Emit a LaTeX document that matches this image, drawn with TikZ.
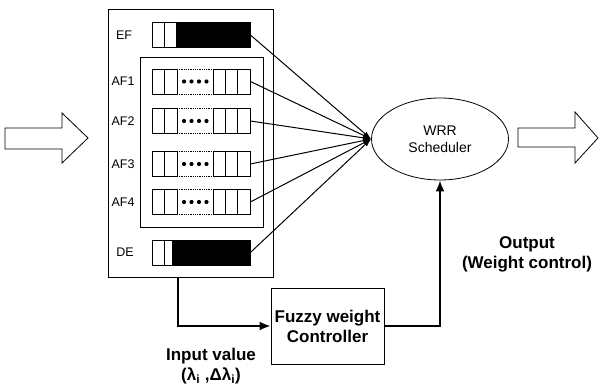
\documentclass[tikz,border=0pt]{standalone}
\usepackage{fontspec}
\setmainfont{Liberation Sans}
\usetikzlibrary{arrows.meta,shapes.geometric}

% AF queue: name, y, label
\newcommand{\afqueue}[3]{%
  \node[qbox] (#1) at (201,#2) {};
  \draw (152,#2-12.5) rectangle (177,#2+12.5) (164,#2-12.5) -- (164,#2+12.5);
  \draw (213,#2-12.5) rectangle (250,#2+12.5)
        (225,#2-12.5) -- (225,#2+12.5) (237,#2-12.5) -- (237,#2+12.5);
  \draw[densely dotted] (177,#2-12.5) -- (213,#2-12.5) (177,#2+12.5) -- (213,#2+12.5);
  \foreach \dx in {184,191.5,199,206.5} \fill (\dx,#2) circle (2.1pt);
  \node[qlabel] (#1-lbl) at (123,#2) {#3};
}

\begin{document}
\begin{tikzpicture}[x=1pt,y=-1pt,line width=.8pt,
  qbox/.style={minimum width=98pt,minimum height=25pt,inner sep=0pt},
  qlabel/.style={font=\fontsize{12.5}{14}\selectfont},
  bold/.style={font=\bfseries\fontsize{17}{20}\selectfont,align=center},
  link/.style={line width=1pt,-{Latex[length=8pt,width=5pt]}},
  feed/.style={line width=2pt,-{Latex[length=11pt,width=9pt]}}]
\useasboundingbox (0,0) rectangle (600,387);

% Classifier boxes
\node[draw,minimum width=165pt,minimum height=268pt] (outer) at (190.5,143) {};
\node[draw,minimum width=123pt,minimum height=170pt] (inner) at (201.5,142) {};

% Queues
\node[qbox,draw] (ef) at (201,35) {};
\fill (176,22.5) rectangle (250,47.5);
\draw (164,22.5) -- (164,47.5);
\node[qlabel] (ef-lbl) at (124,35) {EF};

\afqueue{af1}{81.5}{AF1}
\afqueue{af2}{121}{AF2}
\afqueue{af3}{164}{AF3}
\afqueue{af4}{202}{AF4}

\node[qbox,draw] (de) at (201,252.5) {};
\fill (172,240) rectangle (250,265);
\draw (164,240) -- (164,265);
\node[qlabel] (de-lbl) at (125,252.5) {DE};

% Scheduler
\node[draw,ellipse,minimum width=137pt,minimum height=82pt,align=center,
  font=\fontsize{14}{17}\selectfont] (wrr) at (440,139) {WRR\\Scheduler};
\foreach \q in {ef,af1,af2,af3,af4,de}
  \draw[link] (\q.east) -- (wrr.west);

% In / out arrows
\draw (5,128) -- (62,128) -- (62,113) -- (88,138) -- (62,163) -- (62,149) -- (5,149) -- cycle;
\draw (518,128) -- (575,128) -- (575,112) -- (598,138) -- (575,163) -- (575,147) -- (518,147) -- cycle;

% Fuzzy controller loop
\node[draw,bold,minimum width=113pt,minimum height=76pt] (fuzzy) at (327.5,326) {Fuzzy weight\\Controller};
\draw[feed] ([xshift=70pt]outer.south west) |- (fuzzy.west);
\draw[feed] (fuzzy.east) -| (wrr.south);

\node[bold] (inval) at (211,366) {Input value\\(λ\textsubscript{i} ,Δλ\textsubscript{i})};
\node[bold] (outval) at (527,254) {Output\\(Weight control)};
\end{tikzpicture}
\end{document}
